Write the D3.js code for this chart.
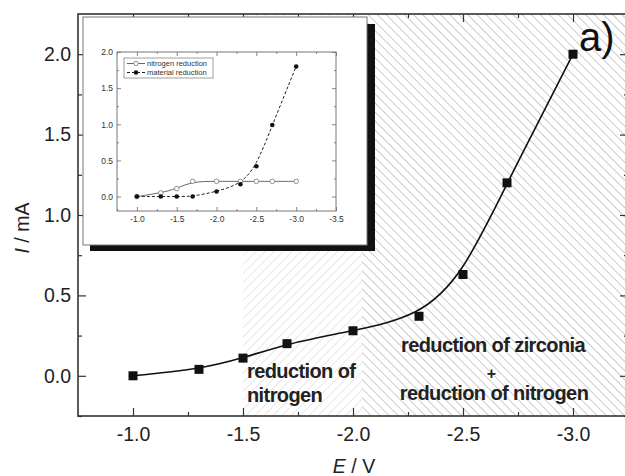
<!DOCTYPE html>
<html>
<head>
  <meta charset="utf-8"><script src="https://d3js.org/d3.v7.min.js"></script>
  <style>
    body { margin: 0; background: white; }
    text { font-family: "Liberation Sans", Arial, sans-serif; }
  </style>
</head>
<body>
  <svg id="mychart" width="625" height="476" style="background: white"></svg>
<script>
  // main chart data
  const potential = [-1.0, -1.3, -1.5, -1.7, -2.0, -2.3, -2.5, -2.7, -3.0]
  const current   = [0.00, 0.04, 0.11, 0.20, 0.28, 0.37, 0.63, 1.20, 2.00]
  const xTicks = [-1.0, -1.5, -2.0, -2.5, -3.0]
  const xMinor = [-1.25, -1.75, -2.25, -2.75, -3.25]
  const yTicks = [0.0, 0.5, 1.0, 1.5, 2.0]
  const yMinor = [-0.25, 0.25, 0.75, 1.25, 1.75]
  const nitrogenZone = [-1.5, -2.04]
  const zirconiaZone = [-2.04, -3.25]

  // inset data
  const insetPotential = [-1.0, -1.3, -1.5, -1.7, -2.0, -2.3, -2.5, -2.7, -3.0]
  const nitrogenRed = [0.00, 0.05, 0.11, 0.21, 0.21, 0.21, 0.21, 0.21, 0.21]
  const materialRed = [0.00, 0.00, 0.00, 0.00, 0.07, 0.17, 0.42, 0.99, 1.80]
  const insetXTicks = [-1.0, -1.5, -2.0, -2.5, -3.0, -3.5]
  const insetXMinor = [-0.75, -1.25, -1.75, -2.25, -2.75, -3.25]
  const insetYTicks = [0.0, 0.5, 1.0, 1.5, 2.0]
  const insetYMinor = [0.25, 0.75, 1.25, 1.75]
  const legendNames = ["nitrogen reduction", "material reduction"]

  const fmt = d => d.toFixed(1)
  const svg = d3.select("#mychart")

  const pL = 78, pR = 628, pT = 14, pB = 416
  const x = d3.scaleLinear().domain([-0.75, -3.25]).range([pL, pR])
  const y = d3.scaleLinear().domain([-0.25, 2.25]).range([pB, pT])

  // hatch patterns
  const defs = svg.append("defs")
  function hatch(id, angle, color) {
    defs.append("pattern")
        .attr("id", id)
        .attr("patternUnits", "userSpaceOnUse")
        .attr("width", 6.4).attr("height", 6.4)
        .attr("patternTransform", `rotate(${angle})`)
      .append("line")
        .attr("x1", 0).attr("y1", -1).attr("x2", 0).attr("y2", 8)
        .attr("stroke", color).attr("stroke-width", 1)
  }
  hatch("hatchLight", 45, "#cfcfcf")
  hatch("hatchDark", -45, "#999")

  svg.append("rect")
      .attr("x", x(nitrogenZone[0])).attr("y", pT)
      .attr("width", x(nitrogenZone[1]) - x(nitrogenZone[0])).attr("height", pB - pT)
      .attr("fill", "url(#hatchLight)")
  svg.append("rect")
      .attr("x", x(zirconiaZone[0])).attr("y", pT)
      .attr("width", x(zirconiaZone[1]) - x(zirconiaZone[0])).attr("height", pB - pT)
      .attr("fill", "url(#hatchDark)")

  // axes, ticks pointing inwards
  function styleAxis(g, size) {
    g.select(".domain").remove()
    g.selectAll("line").attr("stroke", "#333").attr("stroke-width", 1.2)
    g.selectAll("text").attr("fill", "#222").attr("font-size", size)
  }
  svg.append("g").attr("transform", `translate(0,${pB})`)
      .call(d3.axisBottom(x).tickValues(xTicks).tickSize(-8).tickPadding(11).tickFormat(fmt))
      .call(g => styleAxis(g, 19.5))
  svg.append("g").attr("transform", `translate(0,${pB})`)
      .call(d3.axisBottom(x).tickValues(xMinor).tickSize(-4).tickFormat(""))
      .call(g => styleAxis(g, 0))
  svg.append("g").attr("transform", `translate(0,${pT})`)
      .call(d3.axisTop(x).tickValues(xTicks).tickSize(-8).tickFormat(""))
      .call(g => styleAxis(g, 0))
  svg.append("g").attr("transform", `translate(0,${pT})`)
      .call(d3.axisTop(x).tickValues(xMinor).tickSize(-4).tickFormat(""))
      .call(g => styleAxis(g, 0))
  svg.append("g").attr("transform", `translate(${pL},0)`)
      .call(d3.axisLeft(y).tickValues(yTicks).tickSize(-8).tickPadding(7).tickFormat(fmt))
      .call(g => styleAxis(g, 19.5))
  svg.append("g").attr("transform", `translate(${pL},0)`)
      .call(d3.axisLeft(y).tickValues(yMinor).tickSize(-4).tickFormat(""))
      .call(g => styleAxis(g, 0))
  svg.append("g").attr("transform", `translate(${pR},0)`)
      .call(d3.axisRight(y).tickValues(yTicks).tickSize(-8).tickFormat(""))
      .call(g => styleAxis(g, 0))
  svg.append("g").attr("transform", `translate(${pR},0)`)
      .call(d3.axisRight(y).tickValues(yMinor).tickSize(-4).tickFormat(""))
      .call(g => styleAxis(g, 0))

  svg.append("rect")
      .attr("x", pL).attr("y", pT)
      .attr("width", pR - pL).attr("height", pB - pT)
      .attr("fill", "none").attr("stroke", "#333").attr("stroke-width", 1.6)

  // axis titles
  const xt = svg.append("text")
      .attr("x", 354).attr("y", 473)
      .attr("text-anchor", "middle").attr("font-size", 19.5).attr("fill", "#222")
  xt.append("tspan").attr("font-style", "italic").text("E")
  xt.append("tspan").text(" / V")

  const yt = svg.append("text")
      .attr("transform", "translate(29,228) rotate(-90)")
      .attr("text-anchor", "middle").attr("font-size", 19.5).attr("fill", "#222")
  yt.append("tspan").attr("font-style", "italic").text("I")
  yt.append("tspan").text(" / mA")

  // main curve
  const pts = potential.map((e, i) => [e, current[i]])
  const line = d3.line()
      .x(d => x(d[0]))
      .y(d => y(d[1]))
      .curve(d3.curveBasis)
  svg.append("path")
      .datum(pts)
      .attr("fill", "none")
      .attr("stroke", "#111")
      .attr("stroke-width", 1.6)
      .attr("d", line)
  svg.append("g").selectAll("rect")
      .data(pts)
      .join("rect")
      .attr("x", d => x(d[0]) - 4.5)
      .attr("y", d => y(d[1]) - 4.5)
      .attr("width", 9).attr("height", 9)
      .attr("fill", "#111")

  // annotations
  const ann = svg.append("g")
      .attr("font-size", 20).attr("font-weight", "bold")
      .attr("letter-spacing", -0.6).attr("fill", "#222")
  ann.append("text").attr("x", 247).attr("y", 378).text("reduction of")
  ann.append("text").attr("x", 247).attr("y", 402).text("nitrogen")
  ann.append("text").attr("x", 493).attr("y", 352).attr("text-anchor", "middle").text("reduction of zirconia")
  ann.append("text").attr("x", 491).attr("y", 379).attr("text-anchor", "middle")
      .attr("font-size", 16).text("+")
  ann.append("text").attr("x", 494).attr("y", 400).attr("text-anchor", "middle").text("reduction of nitrogen")

  svg.append("text")
      .attr("x", 579).attr("y", 51)
      .attr("font-size", 40).attr("fill", "#111")
      .text("a)")

  // ---- inset ----
  svg.append("rect")
      .attr("x", 90).attr("y", 24).attr("width", 285).attr("height", 227)
      .attr("fill", "#111")
  svg.append("rect")
      .attr("x", 83).attr("y", 17).attr("width", 284).attr("height", 228)
      .attr("fill", "white").attr("stroke", "#777").attr("stroke-width", 1)

  const il = 117, ir = 336, it = 52, ib = 211
  const ix = d3.scaleLinear().domain([-0.75, -3.5]).range([il, ir])
  const iy = d3.scaleLinear().domain([-0.2, 2.0]).range([ib, it])

  function styleInset(g) {
    g.select(".domain").remove()
    g.selectAll("line").attr("stroke", "#666").attr("stroke-width", 0.8)
    g.selectAll("text").attr("fill", "#333").attr("font-size", 8.5)
  }
  svg.append("g").attr("transform", `translate(0,${ib})`)
      .call(d3.axisBottom(ix).tickValues(insetXTicks).tickSize(-4).tickPadding(5).tickFormat(fmt))
      .call(styleInset)
  svg.append("g").attr("transform", `translate(0,${ib})`)
      .call(d3.axisBottom(ix).tickValues(insetXMinor).tickSize(-2).tickFormat(""))
      .call(styleInset)
  svg.append("g").attr("transform", `translate(0,${it})`)
      .call(d3.axisTop(ix).tickValues(insetXTicks).tickSize(-4).tickFormat(""))
      .call(styleInset)
  svg.append("g").attr("transform", `translate(0,${it})`)
      .call(d3.axisTop(ix).tickValues(insetXMinor).tickSize(-2).tickFormat(""))
      .call(styleInset)
  svg.append("g").attr("transform", `translate(${il},0)`)
      .call(d3.axisLeft(iy).tickValues(insetYTicks).tickSize(-4).tickPadding(4).tickFormat(fmt))
      .call(styleInset)
  svg.append("g").attr("transform", `translate(${il},0)`)
      .call(d3.axisLeft(iy).tickValues(insetYMinor).tickSize(-2).tickFormat(""))
      .call(styleInset)
  svg.append("g").attr("transform", `translate(${ir},0)`)
      .call(d3.axisRight(iy).tickValues(insetYTicks).tickSize(-4).tickFormat(""))
      .call(styleInset)
  svg.append("g").attr("transform", `translate(${ir},0)`)
      .call(d3.axisRight(iy).tickValues(insetYMinor).tickSize(-2).tickFormat(""))
      .call(styleInset)
  svg.append("rect")
      .attr("x", il).attr("y", it).attr("width", ir - il).attr("height", ib - it)
      .attr("fill", "none").attr("stroke", "#777").attr("stroke-width", 1)

  const iline = d3.line()
      .x(d => ix(d[0]))
      .y(d => iy(d[1]))
      .curve(d3.curveBasis)
  const nPts = insetPotential.map((e, i) => [e, nitrogenRed[i]])
  const mPts = insetPotential.map((e, i) => [e, materialRed[i]])

  svg.append("path").datum(nPts)
      .attr("fill", "none").attr("stroke", "#666").attr("stroke-width", 1)
      .attr("d", iline)
  svg.append("path").datum(mPts)
      .attr("fill", "none").attr("stroke", "#222").attr("stroke-width", 1)
      .attr("stroke-dasharray", "3,2")
      .attr("d", iline)
  svg.append("g").selectAll("circle")
      .data(nPts).join("circle")
      .attr("cx", d => ix(d[0])).attr("cy", d => iy(d[1])).attr("r", 2.3)
      .attr("fill", "white").attr("stroke", "#777").attr("stroke-width", 0.8)
  svg.append("g").selectAll("circle")
      .data(mPts).join("circle")
      .attr("cx", d => ix(d[0])).attr("cy", d => iy(d[1])).attr("r", 2.3)
      .attr("fill", "#111")

  // inset legend
  const lg = svg.append("g")
  lg.append("rect")
      .attr("x", 124).attr("y", 58).attr("width", 89).attr("height", 20)
      .attr("fill", "white").attr("stroke", "#888").attr("stroke-width", 0.8)
  legendNames.forEach((name, i) => {
    const ly = 63.5 + i * 9
    lg.append("line")
        .attr("x1", 127).attr("x2", 145).attr("y1", ly).attr("y2", ly)
        .attr("stroke", i ? "#222" : "#666").attr("stroke-width", 1)
        .attr("stroke-dasharray", i ? "3,2" : null)
    lg.append("circle")
        .attr("cx", 136).attr("cy", ly).attr("r", 2.2)
        .attr("fill", i ? "#111" : "white")
        .attr("stroke", i ? "none" : "#777").attr("stroke-width", 0.8)
    lg.append("text")
        .attr("x", 147).attr("y", ly).attr("dy", "0.33em")
        .attr("font-size", 7.5).attr("fill", "#333")
        .text(name)
  })
</script>
</body>
</html>
